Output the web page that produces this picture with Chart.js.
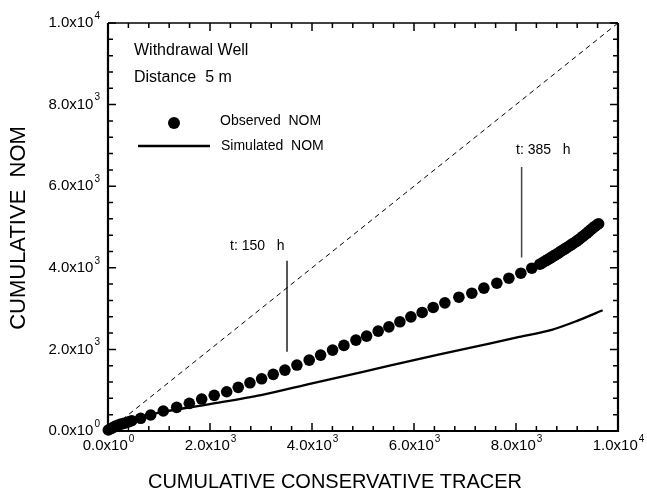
<!DOCTYPE html>
<html><head><meta charset="utf-8">
<script src="https://cdn.jsdelivr.net/npm/chart.js@4"></script>
<style>html,body{margin:0;padding:0;background:#fff}#wrap{width:647px;height:496px}</style>
</head><body><div id="wrap"><canvas id="c" width="647" height="496"></canvas></div>
<script>
// Observed NOM (cumulative conservative tracer vs cumulative NOM)
const observedX = [6,60,104,150,202,255,314,390,465,641,837,1084,1347,1594,1837,2083,2327,2554,2783,3013,3240,3469,3704,3945,4169,4404,4626,4861,5071,5298,5508,5723,5939,6160,6376,6605,6880,7134,7370,7624,7860,8095,8310,8467,8510,8550,8590,8630,8670,8710,8750,8790,8830,8870,8910,8950,8990,9030,9070,9110,9150,9190,9230,9270,9310,9350,9390,9430,9470,9510,9550,9590,9620];
const observedY = [24,60,91,120,147,168,188,220,252,311,392,490,580,678,783,874,962,1070,1182,1280,1388,1493,1616,1738,1860,1983,2098,2228,2326,2448,2553,2676,2798,2906,3028,3141,3280,3378,3501,3623,3745,3868,3990,4088,4118,4148,4178,4208,4238,4268,4300,4330,4362,4394,4426,4458,4490,4522,4555,4588,4620,4655,4692,4730,4770,4810,4852,4895,4937,4978,5018,5055,5080];
// Simulated NOM
const simulatedX = [0,200,500,1000,2000,3000,4000,5000,6000,7000,8000,8700,9200,9700];
const simulatedY = [0,130,280,450,660,880,1170,1450,1740,2010,2290,2480,2700,2960];
// 1:1 reference line
const oneToOneX = [0,10000];
const oneToOneY = [0,10000];
// time markers
const marker150X = [3510,3510];
const marker150Y = [4170,1940];
const marker385X = [8110,8110];
const marker385Y = [6470,4250];
// axes
const tickValues = [0,2000,4000,6000,8000,10000];
const tickMantissa = ["0.0x10","2.0x10","4.0x10","6.0x10","8.0x10","1.0x10"];
const tickExponent = ["0","3","3","3","3","4"];
const minorStep = 400;
const axisMax = 10000;

const pts = (xs, ys) => xs.map((x, i) => ({x, y: ys[i]}));
const FONT = '"Liberation Sans", Arial, Helvetica, sans-serif';

const decor = {
  id: 'decor',
  beforeDatasetsDraw(chart) {
    const {ctx, chartArea: a, scales: {x, y}} = chart;
    ctx.save();
    ctx.strokeStyle = '#000';
    // frame
    ctx.lineWidth = 2.2;
    ctx.beginPath();
    ctx.moveTo(a.left, a.top); ctx.lineTo(a.left, a.bottom); ctx.lineTo(a.right, a.bottom); ctx.lineTo(a.right, a.top);
    ctx.stroke();
    ctx.lineWidth = 1.5;
    ctx.beginPath(); ctx.moveTo(a.left, a.top); ctx.lineTo(a.right, a.top); ctx.stroke();
    // ticks (inward, all four sides)
    ctx.lineWidth = 1.5;
    for (let v = 0; v <= axisMax; v += minorStep) {
      const major = tickValues.includes(v);
      const len = major ? 8 : 5;
      const px = x.getPixelForValue(v), py = y.getPixelForValue(v);
      ctx.beginPath();
      ctx.moveTo(px, a.bottom); ctx.lineTo(px, a.bottom - len);
      ctx.moveTo(px, a.top); ctx.lineTo(px, a.top + len);
      ctx.moveTo(a.left, py); ctx.lineTo(a.left + len, py);
      ctx.moveTo(a.right, py); ctx.lineTo(a.right - len, py);
      ctx.stroke();
    }
    // tick labels
    ctx.fillStyle = '#000';
    ctx.textBaseline = 'middle';
    tickValues.forEach((v, i) => {
      ctx.font = '15px ' + FONT;
      const mw = ctx.measureText(tickMantissa[i]).width;
      ctx.font = '10px ' + FONT;
      const ew = ctx.measureText(tickExponent[i]).width;
      // y labels
      const py = y.getPixelForValue(v);
      const rx = a.left - 8;
      ctx.textAlign = 'left';
      ctx.font = '15px ' + FONT;
      ctx.fillText(tickMantissa[i], rx - ew - mw - 1, py);
      ctx.font = '10px ' + FONT;
      ctx.fillText(tickExponent[i], rx - ew, py - 7);
      // x labels
      const px = x.getPixelForValue(v);
      const sx = px - (mw + ew) / 2;
      const ly = a.bottom + 15;
      ctx.font = '15px ' + FONT;
      ctx.fillText(tickMantissa[i], sx, ly);
      ctx.font = '10px ' + FONT;
      ctx.fillText(tickExponent[i], sx + mw + 1, ly - 7);
    });
    ctx.restore();
  },
  afterDatasetsDraw(chart) {
    const {ctx} = chart;
    ctx.save();
    ctx.fillStyle = '#000';
    ctx.strokeStyle = '#000';
    ctx.textBaseline = 'alphabetic';
    // axis titles
    ctx.font = '20px ' + FONT;
    ctx.textAlign = 'center';
    ctx.fillText('CUMULATIVE CONSERVATIVE TRACER', 335, 488);
    ctx.save();
    ctx.translate(25, 228);
    ctx.rotate(-Math.PI / 2);
    ctx.font = '22px ' + FONT;
    ctx.fillText('CUMULATIVE  NOM', 0, 0);
    ctx.restore();
    // inset text
    ctx.textAlign = 'left';
    ctx.font = '16px ' + FONT;
    ctx.fillText('Withdrawal Well', 134, 55);
    ctx.fillText('Distance  5 m', 134, 82);
    // legend
    ctx.font = '14px ' + FONT;
    ctx.beginPath(); ctx.arc(174, 123, 6, 0, Math.PI * 2); ctx.fill();
    ctx.fillText('Observed  NOM', 220, 125);
    ctx.lineWidth = 2.6;
    ctx.beginPath(); ctx.moveTo(138, 146); ctx.lineTo(210, 146); ctx.stroke();
    ctx.fillText('Simulated  NOM', 221, 150);
    // marker labels
    ctx.font = '14px ' + FONT;
    ctx.fillText('t: 150   h', 230, 250);
    ctx.fillText('t: 385   h', 516, 154);
    ctx.restore();
  }
};

new Chart(document.getElementById('c'), {
  type: 'scatter',
  data: {
    datasets: [
      {label: 'Observed NOM', data: pts(observedX, observedY), showLine: false,
       pointRadius: 5.8, pointBackgroundColor: '#000', pointBorderWidth: 0, pointBorderColor: '#000', order: 0},
      {label: 'Simulated NOM', data: pts(simulatedX, simulatedY), showLine: true,
       borderColor: '#000', borderWidth: 2.3, pointRadius: 0, tension: 0.3, order: 1},
      {label: '1:1', data: pts(oneToOneX, oneToOneY), showLine: true,
       borderColor: '#000', borderWidth: 1, borderDash: [5, 4], pointRadius: 0, order: 2},
      {label: 't150', data: pts(marker150X, marker150Y), showLine: true,
       borderColor: '#222', borderWidth: 1.5, pointRadius: 0, order: 3},
      {label: 't385', data: pts(marker385X, marker385Y), showLine: true,
       borderColor: '#444', borderWidth: 1.5, pointRadius: 0, order: 3}
    ]
  },
  options: {
    responsive: false,
    animation: false,
    devicePixelRatio: 1,
    clip: false,
    layout: {padding: {left: 108, right: 29, top: 23, bottom: 65}},
    plugins: {legend: {display: false}, tooltip: {enabled: false}},
    scales: {
      x: {type: 'linear', min: 0, max: axisMax, display: false},
      y: {type: 'linear', min: 0, max: axisMax, display: false}
    }
  },
  plugins: [decor]
});
</script>
</body></html>
